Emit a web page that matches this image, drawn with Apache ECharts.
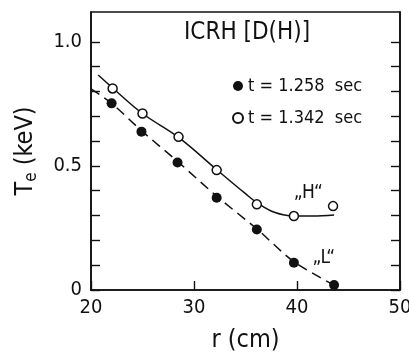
<!DOCTYPE html>
<html>
<head>
<meta charset="utf-8">
<script src="https://cdn.jsdelivr.net/npm/echarts@6/dist/echarts.min.js"></script>
<style>
  html, body { margin: 0; padding: 0; background: #fff; }
  #chart { width: 409px; height: 354px; }
</style>
</head>
<body>
<div id="chart"></div>
<script>
// measured points, [r (cm), Te (keV)]
var pointsL = [[22.0, 0.752], [24.9, 0.638], [28.4, 0.514], [32.2, 0.372], [36.1, 0.244], [39.7, 0.110], [43.6, 0.020]];
var pointsH = [[22.1, 0.812], [25.0, 0.711], [28.5, 0.617], [32.2, 0.483], [36.1, 0.345], [39.7, 0.298], [43.5, 0.338]];
// hand-drawn fit curves
var curveL = [[20.0, 0.810], [22.0, 0.752], [24.9, 0.642], [28.4, 0.518], [32.2, 0.378], [36.1, 0.246], [39.7, 0.114], [43.6, 0.020]];
var curveH = [[20.7, 0.866], [22.1, 0.814], [25.0, 0.711], [28.5, 0.615], [32.2, 0.485], [35.0, 0.388], [36.1, 0.352], [37.8, 0.313], [39.7, 0.298], [41.5, 0.298], [43.6, 0.302]];
var labelsHL = [[41.1, 0.39, '„H“'], [42.6, 0.128, '„L“']];
var yTicks = [0, 0.1, 0.2, 0.3, 0.4, 0.5, 0.6, 0.7, 0.8, 0.9, 1.0];
var yLabels = { 0: '0', 0.5: '0.5', 1: '1.0' };
var xTicks = [20, 30, 40, 50];
var seriesNames = ['t = 1.258  sec', 't = 1.342  sec'];

var FONT = '"DejaVu Sans Condensed", "Liberation Sans Narrow", "DejaVu Sans", sans-serif';
var ink = '#111';

var chart = echarts.init(document.getElementById('chart'));

var yAxisBase = {
    type: 'value',
    min: 0,
    max: 1.12,
    axisLine: { show: true, lineStyle: { color: ink, width: 1.6 } },
    axisTick: { show: true, inside: true, length: 9, customValues: yTicks, lineStyle: { color: ink, width: 1.4 } },
    splitLine: { show: false }
};

var option = {
    backgroundColor: '#fff',
    animation: false,
    textStyle: { fontFamily: FONT },
    grid: {
        left: 91, right: 9, top: 12, bottom: 64,
        containLabel: false, outerBoundsMode: 'none',
        show: true, borderColor: ink, borderWidth: 1.6
    },
    graphic: [{
        type: 'text',
        x: 247, y: 33,
        style: { text: 'ICRH [D(H)]', fontSize: 24, fontFamily: FONT, fill: ink, align: 'center', verticalAlign: 'middle' }
    }],
    legend: {
        data: seriesNames,
        orient: 'vertical',
        left: 227, top: 72,
        itemWidth: 10, itemHeight: 10, itemGap: 14,
        textStyle: { fontSize: 18, color: ink, fontFamily: FONT, lineHeight: 18 }
    },
    xAxis: {
        type: 'value',
        min: 20, max: 50, interval: 10,
        name: 'r (cm)',
        nameLocation: 'middle',
        nameGap: 38,
        nameTextStyle: { fontSize: 25, color: ink, fontFamily: FONT },
        axisLine: { show: true, lineStyle: { color: ink, width: 1.6 } },
        axisTick: { show: true, inside: true, length: 9, customValues: xTicks, lineStyle: { color: ink, width: 1.4 } },
        axisLabel: { fontSize: 20, color: ink, margin: 8, customValues: xTicks, showMaxLabel: true },
        splitLine: { show: false }
    },
    yAxis: [
        Object.assign({}, yAxisBase, {
            position: 'left',
            name: '{t|T}{s|e}{t| (keV)}',
            nameLocation: 'middle',
            nameGap: 51,
            nameRotate: 90,
            nameTextStyle: {
                rich: {
                    t: { fontSize: 25, color: ink, fontFamily: FONT, lineHeight: 30, verticalAlign: 'middle' },
                    s: { fontSize: 17, color: ink, fontFamily: FONT, lineHeight: 12, verticalAlign: 'bottom' }
                }
            },
            axisLabel: {
                fontSize: 20, color: ink, margin: 9,
                customValues: [0, 0.5, 1.0],
                formatter: function (v) { return yLabels[Math.round(v * 10) / 10] || ''; }
            }
        }),
        Object.assign({}, yAxisBase, {
            position: 'right',
            axisLabel: { show: false }
        })
    ],
    series: [
        {
            name: 'fitL', type: 'line', data: curveL, smooth: 0.3, showSymbol: false, silent: true,
            lineStyle: { color: ink, width: 1.5, type: [10, 6] }, z: 1
        },
        {
            name: 'fitH', type: 'line', data: curveH, smooth: 0.4, showSymbol: false, silent: true,
            lineStyle: { color: ink, width: 1.5 }, z: 1
        },
        {
            name: seriesNames[0], type: 'scatter', data: pointsL, symbol: 'circle', symbolSize: 10,
            itemStyle: { color: ink, opacity: 1 }, z: 3
        },
        {
            name: seriesNames[1], type: 'scatter', data: pointsH, symbol: 'circle', symbolSize: 9,
            itemStyle: { color: '#fff', borderColor: ink, borderWidth: 1.5, opacity: 1 }, z: 3
        },
        {
            name: 'labels', type: 'scatter', data: labelsHL, symbol: 'circle', symbolSize: 1, silent: true,
            itemStyle: { color: '#fff', opacity: 1 },
            label: {
                show: true, position: 'inside', fontSize: 19, color: ink, fontFamily: FONT,
                formatter: function (p) { return p.data[2]; }
            }, z: 4
        }
    ]
};

chart.setOption(option);
</script>
</body>
</html>
